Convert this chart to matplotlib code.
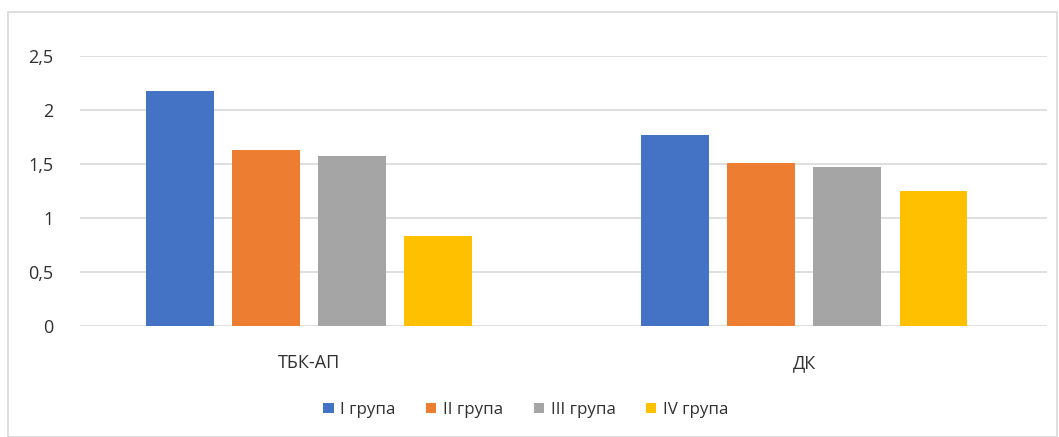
import numpy as np
import matplotlib.pyplot as plt
from matplotlib.patches import Rectangle

plt.rcParams['font.family'] = ['Open Sans', 'DejaVu Sans']

# Data
categories = ['ТБК-АП', 'ДК']
groups = ['I група', 'II група', 'III група', 'IV група']
values = [
    [2.17, 1.77],
    [1.63, 1.51],
    [1.57, 1.47],
    [0.83, 1.25],
]
colors = ['#4472C4', '#ED7D31', '#A5A5A5', '#FFC000']
yticks = [0, 0.5, 1, 1.5, 2, 2.5]
ytick_labels = ['0', '0,5', '1', '1,5', '2', '2,5']

fig = plt.figure(figsize=(10.59, 4.37), dpi=100)
ax = fig.add_axes([0.0755, 0.254, 0.913, 0.6185])

x = np.arange(len(categories))
width = 0.137
step = 0.174
for i, (g, v, c) in enumerate(zip(groups, values, colors)):
    ax.bar(x + (i - 1.5) * step, v, width, color=c, label=g, zorder=3)

ax.set_xlim(-0.4626, 1.49)
ax.set_ylim(0, 2.5)
ax.set_yticks(yticks)
ax.set_yticklabels(ytick_labels)
ax.set_xticks(x)
ax.set_xticklabels(categories)
ax.tick_params(axis='y', length=0, pad=19, labelsize=13, labelcolor='#303030')
ax.tick_params(axis='x', length=0, pad=20, labelsize=13, labelcolor='#303030')
ax.grid(axis='y', color='#D9D9D9', linewidth=1.2, zorder=0)
for s in ax.spines.values():
    s.set_visible(False)

ax.legend(loc='center', bbox_to_anchor=(526 / 1059, 1 - 410 / 437),
          bbox_transform=fig.transFigure, ncol=4, frameon=False,
          fontsize=12.2, handlelength=0.6, handleheight=0.6,
          handletextpad=0.4, columnspacing=1.8, labelcolor='#303030')

# chart area border
fig.patches.append(Rectangle((8 / 1059, 0), 1049 / 1059, 1 - 12 / 437,
                             transform=fig.transFigure, fill=False,
                             edgecolor='#D9D9D9', linewidth=1.2))

fig.savefig('out.png', dpi=100)
